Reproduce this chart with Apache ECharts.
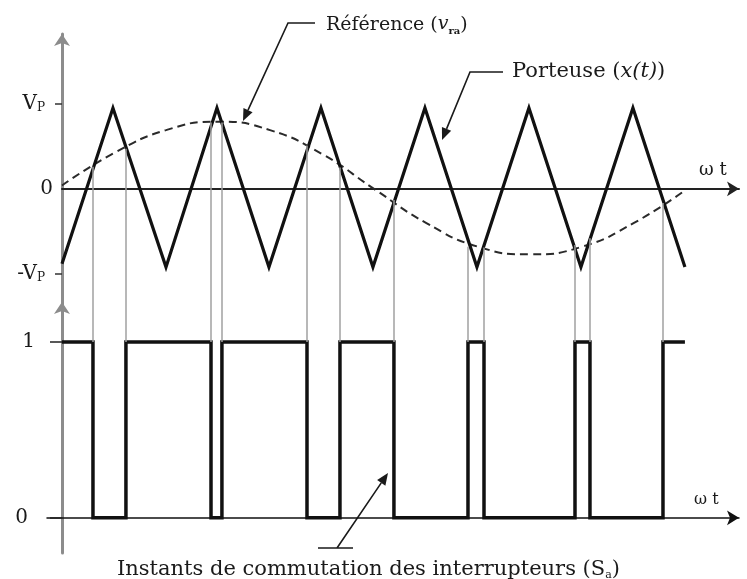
<!DOCTYPE html>
<html>
<head>
<meta charset="utf-8">
<script src="https://cdn.jsdelivr.net/npm/echarts@6/dist/echarts.min.js"></script>
<style>
  html, body { margin: 0; background: #fff; }
  #chart { width: 747px; height: 579px; }
</style>
</head>
<body>
<div id="chart"></div>
<script>
// porteuse triangulaire : sommets (t en periodes de porteuse, v en Vp)
var carrierT = [0, 0.49, 1.0, 1.49, 1.99, 2.49, 2.99, 3.49, 3.99, 4.49, 4.99, 5.49, 5.99];
var carrierV = [-0.88, 0.95, -0.92, 0.95, -0.92, 0.95, -0.92, 0.95, -0.92, 0.95, -0.92, 0.95, -0.92];

// reference sinusoidale (pointillés), points relevés
var refT = [0, 0.5, 1, 1.5, 2, 2.5, 3, 3.5, 4, 4.5, 5, 5.5, 6];
var refV = [0.04, 0.42, 0.69, 0.79, 0.69, 0.41, 0.0, -0.4, -0.68, -0.77, -0.68, -0.4, -0.01];

// instants de commutation, niveau du croisement, etat apres commutation
var switchT = [0.298, 0.615, 1.433, 1.538, 2.356, 2.673, 3.192, 3.904, 4.058, 4.933, 5.077, 5.779];
var crossV  = [0.26, 0.47, 0.78, 0.78, 0.51, 0.25, -0.13, -0.68, -0.69, -0.66, -0.58, -0.165];
var switchS = [0, 1, 0, 1, 0, 1, 0, 1, 0, 1, 0, 1];
var pwmStartS = 1;
var pwmEndT = 5.99;

var topLabelVals = [-1, 0, 1];
var topTickVals = [-1, 1];
var botVals = [0, 1];

var TOP_MIN = -1.33, TOP_MAX = 1.82;
var BOT_MIN = -0.2, BOT_MAX = 1.227;
var X_MAX = 6.51;

var FONT = '"DejaVu Serif", "Liberation Serif", serif';
var INK = '#1a1a1a';

function zip(a, b) {
  return a.map(function (v, i) { return [v, b[i]]; });
}

var pwmData = [[0, pwmStartS]].concat(zip(switchT, switchS)).concat([[pwmEndT, switchS[switchS.length - 1]]]);

var topGuides = switchT.map(function (t, i) {
  return [{ coord: [t, crossV[i]] }, { coord: [t, TOP_MIN] }];
});
var botGuides = switchT.map(function (t) {
  return [{ coord: [t, BOT_MAX] }, { coord: [t, 1] }];
});

// fleche d'annotation : ligne brisee + pointe pleine
function leader(pts, tip) {
  var last = pts[pts.length - 1];
  var dx = tip[0] - last[0], dy = tip[1] - last[1];
  var len = Math.sqrt(dx * dx + dy * dy);
  var ux = dx / len, uy = dy / len;
  var L = 12, W = 5;
  var bx = tip[0] - ux * L, by = tip[1] - uy * L;
  return [
    {
      type: 'polyline',
      shape: { points: pts.concat([[bx, by]]) },
      style: { stroke: INK, lineWidth: 1.6, fill: null }
    },
    {
      type: 'polygon',
      shape: { points: [tip, [bx - uy * W, by + ux * W], [bx + uy * W, by - ux * W]] },
      style: { fill: INK }
    }
  ];
}

var chart = echarts.init(document.getElementById('chart'));

var option = {
  animation: false,
  backgroundColor: '#fff',
  grid: [
    { left: 62, top: 34, width: 677, height: 268, outerBoundsMode: 'none', containLabel: false },
    { left: 47, top: 302, width: 692, height: 251, outerBoundsMode: 'none', containLabel: false }
  ],
  xAxis: [
    {
      gridIndex: 0, type: 'value', min: 0, max: X_MAX,
      axisLine: { onZero: true, symbol: ['none', 'arrow'], symbolSize: [11, 12], lineStyle: { color: '#222', width: 2 } },
      axisTick: { show: false }, axisLabel: { show: false }, splitLine: { show: false },
      name: 'ω t', nameLocation: 'end', nameGap: -40,
      nameTextStyle: { fontFamily: FONT, fontSize: 18, color: INK, verticalAlign: 'bottom', padding: [0, 0, 10, 0] }
    },
    {
      gridIndex: 1, type: 'value', min: -0.144, max: X_MAX,
      axisLine: { onZero: true, symbol: ['none', 'arrow'], symbolSize: [11, 12], lineStyle: { color: '#111', width: 1.5 } },
      axisTick: { show: false }, axisLabel: { show: false }, splitLine: { show: false },
      name: 'ω t', nameLocation: 'end', nameGap: -45,
      nameTextStyle: { fontFamily: FONT, fontSize: 16, color: INK, verticalAlign: 'bottom', padding: [0, 0, 10, 0] }
    }
  ],
  yAxis: [
    {
      gridIndex: 0, type: 'value', min: TOP_MIN, max: TOP_MAX,
      axisLine: { show: true, onZero: true, symbol: ['none', 'arrow'], symbolSize: [12, 12], lineStyle: { color: '#8c8c8c', width: 3 } },
      axisTick: { show: true, customValues: topTickVals, length: 7, lineStyle: { color: '#333', width: 1.5 } },
      axisLabel: {
        customValues: topLabelVals, margin: 9, color: INK, fontFamily: FONT, fontSize: 20,
        formatter: function (v) {
          if (v === 0) return '{z|0}';
          return (v < 0 ? '{v|-V}' : '{v|V}') + '{s|P}';
        },
        rich: {
          z: { fontFamily: FONT, fontSize: 20, color: INK },
          v: { fontFamily: FONT, fontSize: 20, lineHeight: 20, verticalAlign: 'top', color: INK },
          s: { fontFamily: FONT, fontSize: 12, lineHeight: 12, verticalAlign: 'bottom', padding: [14, 8, 0, 0], color: INK }
        }
      },
      splitLine: { show: false }
    },
    {
      gridIndex: 1, type: 'value', min: BOT_MIN, max: BOT_MAX,
      axisLine: { show: true, onZero: true, symbol: ['none', 'arrow'], symbolSize: [12, 12], lineStyle: { color: '#8c8c8c', width: 3 } },
      axisTick: { show: true, customValues: botVals, length: 12, lineStyle: { color: '#222', width: 1.5 } },
      axisLabel: {
        customValues: botVals, margin: 12, color: INK, fontFamily: FONT, fontSize: 20,
        formatter: function (v) { return v === 0 ? '{z|0}' : '1'; },
        rich: { z: { fontFamily: FONT, fontSize: 20, color: INK, padding: [0, 7, 0, 0] } }
      },
      splitLine: { show: false }
    }
  ],
  series: [
    {
      name: 'guides-top', type: 'line', xAxisIndex: 0, yAxisIndex: 0, data: [], z: 1,
      markLine: { silent: true, symbol: ['none', 'none'], label: { show: false },
        lineStyle: { color: '#a0a0a0', width: 1.5, type: 'solid' }, data: topGuides }
    },
    {
      name: 'guides-bot', type: 'line', xAxisIndex: 1, yAxisIndex: 1, data: [], z: 1,
      markLine: { silent: true, symbol: ['none', 'none'], label: { show: false },
        lineStyle: { color: '#a0a0a0', width: 1.5, type: 'solid' }, data: botGuides }
    },
    {
      name: 'Référence', type: 'line', xAxisIndex: 0, yAxisIndex: 0, z: 3,
      data: zip(refT, refV), smooth: true, symbol: 'none',
      lineStyle: { color: '#2a2a2a', width: 2, type: [8, 5] }
    },
    {
      name: 'Porteuse', type: 'line', xAxisIndex: 0, yAxisIndex: 0, z: 4,
      data: zip(carrierT, carrierV), symbol: 'none',
      lineStyle: { color: '#111', width: 3.2, join: 'miter' }
    },
    {
      name: 'Sa', type: 'line', xAxisIndex: 1, yAxisIndex: 1, z: 4,
      data: pwmData, step: 'end', symbol: 'none',
      lineStyle: { color: '#111', width: 3.5, join: 'miter' }
    }
  ],
  graphic: [].concat(
    leader([[315, 23], [288, 23]], [243, 121]),
    leader([[503, 72], [470, 72]], [442, 140]),
    leader([[318, 548], [353, 548], [337, 548]], [388, 473]),
    [
      {
        type: 'text', left: 326, top: 11,
        style: {
          text: 'Référence ({i|v}{b|ra})', fill: INK, font: '19px ' + FONT,
          rich: {
            i: { fontFamily: FONT, fontSize: 19, fontStyle: 'italic', verticalAlign: 'top', lineHeight: 21 },
            b: { fontFamily: FONT, fontSize: 10, fontWeight: 'bold', verticalAlign: 'bottom', lineHeight: 10, padding: [15, 0, 0, 0] }
          }
        }
      },
      {
        type: 'text', left: 512, top: 61,
        style: {
          text: 'Porteuse ({i|x(t)})', fill: INK, font: '21px ' + FONT,
          rich: { i: { fontFamily: FONT, fontSize: 21, fontStyle: 'italic' } }
        }
      },
      {
        type: 'text', left: 117, top: 555,
        style: {
          text: 'Instants de commutation des interrupteurs ({n|S}{s|a})', fill: INK, font: '21px ' + FONT,
          rich: {
            n: { fontFamily: FONT, fontSize: 21, verticalAlign: 'top', lineHeight: 22 },
            s: { fontFamily: FONT, fontSize: 11, verticalAlign: 'bottom', lineHeight: 11, padding: [15, 0, 0, 0] }
          }
        }
      }
    ]
  )
};

chart.setOption(option);
</script>
</body>
</html>
